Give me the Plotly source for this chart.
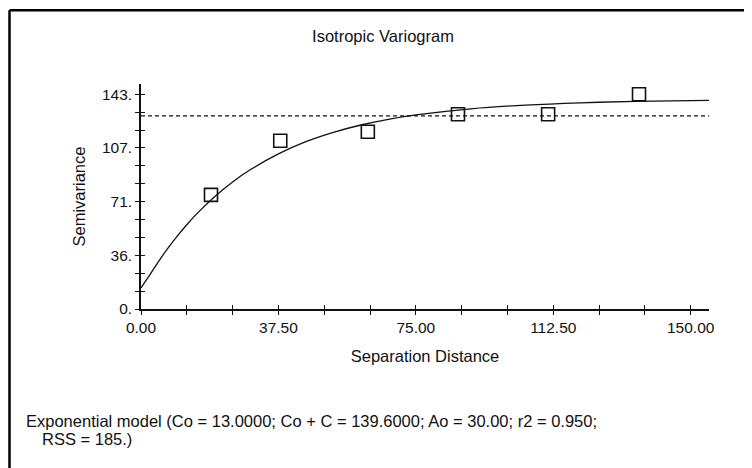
import plotly.graph_objects as go

# ---- data ----
lag_distance = [19.1, 38.0, 61.9, 86.5, 111.1, 135.9]
semivariance = [76.0, 112.0, 118.0, 129.7, 129.7, 143.0]

model_distance = [0, 2.5, 5, 7.5, 10, 12.5, 15, 20, 25, 30, 37.5, 45, 52.5, 60,
                  67.5, 75, 90, 105, 120, 135, 155]
model_value = [14.0, 23.1, 32.4, 41.0, 48.9, 56.1, 62.8, 74.6, 84.6, 93.0, 103.3,
               111.4, 117.6, 122.5, 126.3, 129.2, 133.3, 135.8, 137.3, 138.2, 138.9]

sample_variance = 128.6

x_tick_vals = [0, 37.5, 75, 112.5, 150]
x_tick_text = ["0.00", "37.50", "75.00", "112.50", "150.00"]
y_tick_vals = [0, 35.75, 71.5, 107.25, 143]
y_tick_text = ["0.", "36.", "71.", "107.", "143."]

title_text = "Isotropic Variogram"
x_title = "Separation Distance"
y_title = "Semivariance"
model_line1 = "Exponential model (Co = 13.0000; Co + C = 139.6000; Ao = 30.00; r2 = 0.950;"
model_line2 = "RSS = 185.)"

# ---- layout geometry (page pixels; the page body has an 8px margin) ----
OFF = 8
W, H = 752 - OFF, 468 - OFF
PLOT_L, PLOT_R, PLOT_T, PLOT_B = 141, 709, 83.5, 309.5   # page pixels
L, T = PLOT_L - OFF, PLOT_T - OFF
R, B = W - (PLOT_R - OFF), H - (PLOT_B - OFF)
PW, PH = W - L - R, H - T - B
X_RANGE = [0, 155]
Y_RANGE = [0, 149.8]
FONT = "Liberation Sans, Arial, sans-serif"
INK = "#111111"
TXT = 16.5
TICK = 15.5


def px_x(p):
    return (p - PLOT_L) / PW


def px_y(p):
    return (PLOT_B - p) / PH


fig = go.Figure()

fig.add_trace(go.Scatter(
    x=[0, X_RANGE[1]], y=[sample_variance, sample_variance], mode="lines",
    line=dict(color=INK, width=1.3, dash="4px,3px"), hoverinfo="skip",
    showlegend=False))

fig.add_trace(go.Scatter(
    x=model_distance, y=model_value, mode="lines",
    line=dict(color=INK, width=1.3, shape="spline"), showlegend=False))

fig.add_trace(go.Scatter(
    x=lag_distance, y=semivariance, mode="markers",
    marker=dict(symbol="square-open", size=13, color=INK, line=dict(width=1.6, color=INK)),
    showlegend=False))

axis_common = dict(showgrid=False, zeroline=False, showline=True, linecolor=INK,
                   linewidth=1.5, tickcolor=INK, tickwidth=1.3)

fig.update_layout(
    width=W, height=H,
    margin=dict(l=L, r=R, t=T, b=B, pad=0),
    paper_bgcolor="white", plot_bgcolor="white",
    font=dict(family=FONT, size=TICK, color=INK),
    title=dict(text=title_text, x=(383 - OFF) / W, xanchor="center", xref="container",
               y=1 - (36 - OFF) / H, yanchor="middle", yref="container",
               font=dict(family=FONT, size=TXT, color=INK)),
    xaxis=dict(range=X_RANGE, tickmode="array", tickvals=x_tick_vals, ticktext=x_tick_text,
               ticks="outside", ticklen=4, tickfont=dict(size=TICK),
               minor=dict(ticks="outside", ticklen=4, dtick=12.5, tick0=0,
                          tickcolor=INK, tickwidth=1.3),
               title=dict(text=x_title, standoff=15, font=dict(family=FONT, size=TXT, color=INK)),
               **axis_common),
    yaxis=dict(range=Y_RANGE, tickmode="array", tickvals=y_tick_vals, ticktext=y_tick_text,
               ticks="outside", ticklen=4, tickfont=dict(size=TICK),
               minor=dict(ticks="outside", ticklen=4, dtick=143 / 12, tick0=0,
                          tickcolor=INK, tickwidth=1.3),
               title=dict(text=y_title, standoff=12, font=dict(family=FONT, size=TXT, color=INK)),
               **axis_common),
    xaxis2=dict(range=X_RANGE, overlaying="x", anchor="y", side="bottom",
                tickmode="array", tickvals=x_tick_vals, showticklabels=False,
                ticks="inside", ticklen=4,
                minor=dict(ticks="inside", ticklen=4, dtick=12.5, tick0=0,
                           tickcolor=INK, tickwidth=1.3),
                **axis_common),
    yaxis2=dict(range=Y_RANGE, overlaying="y", anchor="x", side="left",
                tickmode="array", tickvals=y_tick_vals, showticklabels=False,
                ticks="inside", ticklen=4,
                minor=dict(ticks="inside", ticklen=4, dtick=143 / 12, tick0=0,
                           tickcolor=INK, tickwidth=1.3),
                **axis_common),
)

# invisible trace so the overlay axes (crossing tick marks) are drawn
fig.add_trace(go.Scatter(x=[0], y=[0], xaxis="x2", yaxis="y2", mode="markers",
                         marker=dict(opacity=0), hoverinfo="skip", showlegend=False))

fig.add_annotation(text=model_line1, xref="paper", yref="paper", x=px_x(24), y=px_y(422),
                   xanchor="left", yanchor="middle", showarrow=False,
                   font=dict(family=FONT, size=TXT, color=INK))
fig.add_annotation(text=model_line2, xref="paper", yref="paper", x=px_x(40), y=px_y(440),
                   xanchor="left", yanchor="middle", showarrow=False,
                   font=dict(family=FONT, size=TXT, color=INK))

# window frame (top and left edges), kept inside the figure
fig.add_shape(type="line", xref="paper", yref="paper", x0=px_x(9.5), x1=px_x(760),
              y0=px_y(9.5), y1=px_y(9.5), line=dict(color="#000000", width=2.5))
fig.add_shape(type="line", xref="paper", yref="paper", x0=px_x(9.5), x1=px_x(9.5),
              y0=px_y(9.5), y1=px_y(480), line=dict(color="#000000", width=2.5))

fig.write_html("out.html")
